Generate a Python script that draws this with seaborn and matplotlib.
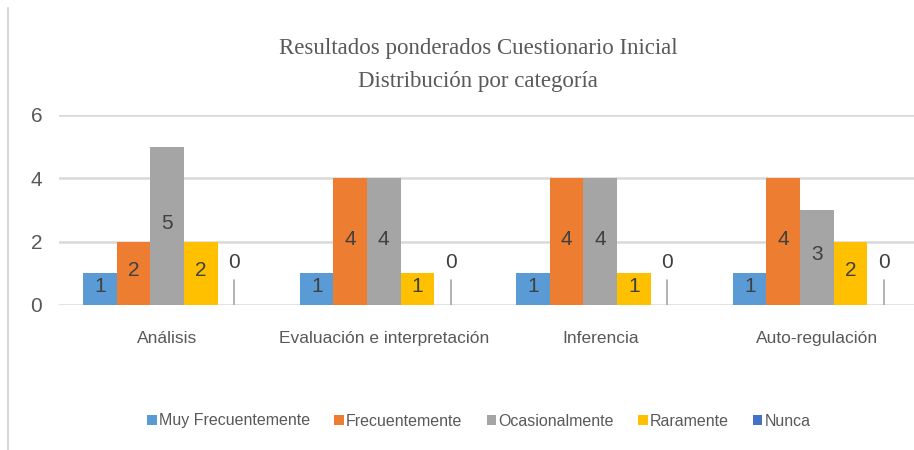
import matplotlib
matplotlib.use("Agg")
import matplotlib.pyplot as plt
from matplotlib.lines import Line2D
import seaborn as sns
import pandas as pd

categories = ["Análisis", "Evaluación e interpretación", "Inferencia", "Auto-regulación"]
series_names = ["Muy Frecuentemente", "Frecuentemente", "Ocasionalmente", "Raramente", "Nunca"]
muy_frecuentemente = [1, 1, 1, 1]
frecuentemente = [2, 4, 4, 4]
ocasionalmente = [5, 4, 4, 3]
raramente = [2, 1, 1, 2]
nunca = [0, 0, 0, 0]
yticks = [0, 2, 4, 6]
title_text = "Resultados ponderados Cuestionario Inicial\nDistribución por categoría"

colors = ["#5B9BD5", "#ED7D31", "#A5A5A5", "#FFC000", "#4472C4"]
series_values = [muy_frecuentemente, frecuentemente, ocasionalmente, raramente, nunca]

rows = []
for name, vals in zip(series_names, series_values):
    for cat, v in zip(categories, vals):
        rows.append({"Categoria": cat, "Serie": name, "Valor": v})
df = pd.DataFrame(rows)

sns.set_theme(style="white")
NARROW = ["Liberation Sans Narrow", "Liberation Sans", "DejaVu Sans"]
plt.rcParams["font.family"] = NARROW

W, H = 914, 450
fig = plt.figure(figsize=(W / 100, H / 100), dpi=100)
left_px, right_px = 59, 914
bottom_px, top_px = 305, 115
ax = fig.add_axes([left_px / W, 1 - bottom_px / H, (right_px - left_px) / W, (bottom_px - top_px) / H])

sns.barplot(data=df, x="Categoria", y="Valor", hue="Serie", hue_order=series_names,
            order=categories, palette=colors, width=0.774, gap=0, ax=ax,
            saturation=1, legend=True, linewidth=0, errorbar=None)

cat_w = 216.5
ax.set_xlim(-0.5, -0.5 + (right_px - left_px) / cat_w)
ax.set_ylim(0, 6)
ax.set_yticks(yticks)
ax.set_yticklabels([str(t) for t in yticks], fontsize=15, color="#595959")
ax.tick_params(axis="y", length=0, pad=12)
ax.tick_params(axis="x", length=0, pad=19, labelsize=12.5, labelcolor="#595959")
ax.set_xlabel("")
ax.set_ylabel("")
ax.grid(axis="y", color="#D9D9D9", linewidth=1.8)
ax.set_axisbelow(True)
for s in ax.spines.values():
    s.set_visible(False)

for container in ax.containers:
    for bar in container:
        h = bar.get_height()
        cx = bar.get_x() + bar.get_width() / 2
        if h > 0:
            ax.text(cx, h / 2 + 0.08, f"{h:.0f}", ha="center", va="center",
                    fontsize=15, color="#404040")
        else:
            ax.plot([cx, cx], [0, 0.8], color="#A6A6A6", linewidth=1.2)
            ax.text(cx, 1.05, "0", ha="center", va="bottom",
                    fontsize=15, color="#404040")

handles, labels = ax.get_legend_handles_labels()
ax.legend_.remove()
fig.legend(handles, labels, loc="center", bbox_to_anchor=(479 / W, 1 - 421 / H),
           ncol=5, frameon=False, fontsize=11.5, handlelength=0.6, handleheight=0.6,
           handletextpad=0.15, columnspacing=1.5, labelcolor="#595959")

fig.text(478 / W, 1 - 65 / H, title_text, ha="center", va="center",
         fontsize=16.5, family=["Liberation Serif", "DejaVu Serif"], color="#595959",
         linespacing=1.75)

fig.add_artist(Line2D([8 / W, 8 / W], [0, 1 - 8 / H], transform=fig.transFigure,
                      color="#D9D9D9", linewidth=1.5))

fig.savefig("out.png", dpi=100, facecolor="white")
